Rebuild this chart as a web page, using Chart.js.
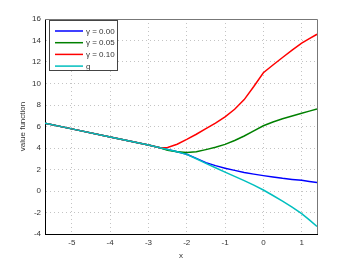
<!DOCTYPE html>
<html>
<head>
<meta charset="utf-8">
<script src="https://cdn.jsdelivr.net/npm/chart.js@4"></script>
<style>
  html, body { margin: 0; padding: 0; background: #fff; }
  #chart { display: block; }
</style>
</head>
<body>
<canvas id="chart" width="350" height="264"></canvas>
<script>
// x grid points (shared by all series)
const xs = [-5.7, -5, -4, -3, -2.7, -2.5, -2.25, -2, -1.75, -1.5, -1.25, -1, -0.75, -0.5, -0.25, 0, 0.25, 0.5, 0.75, 1, 1.2, 1.4];

// value functions
const gamma000 = [6.3, 5.78, 5.03, 4.28, 4.03, 3.87, 3.66, 3.42, 3.03, 2.64, 2.36, 2.12, 1.92, 1.73, 1.57, 1.43, 1.3, 1.18, 1.08, 0.99, 0.89, 0.8];
const gamma005 = [6.3, 5.78, 5.03, 4.28, 4.03, 3.8, 3.65, 3.58, 3.65, 3.85, 4.07, 4.34, 4.7, 5.12, 5.6, 6.07, 6.42, 6.72, 6.98, 7.23, 7.43, 7.62];
const gamma010 = [6.3, 5.78, 5.03, 4.28, 4.03, 4.05, 4.35, 4.8, 5.28, 5.8, 6.32, 6.9, 7.6, 8.5, 9.72, 11.0, 11.72, 12.42, 13.1, 13.75, 14.17, 14.58];
const gFunc = [6.3, 5.78, 5.03, 4.28, 4.03, 3.87, 3.65, 3.41, 3.0, 2.57, 2.16, 1.75, 1.36, 0.96, 0.54, 0.09, -0.42, -0.95, -1.5, -2.1, -2.68, -3.3];

const seriesLabels = ['\u03b3 = 0.00', '\u03b3 = 0.05', '\u03b3 = 0.10', 'g'];
const seriesColors = ['#0000ff', '#008000', '#ff0000', '#00bfbf'];

const xTicks = [-5, -4, -3, -2, -1, 0, 1];
const yTicks = [-4, -2, 0, 2, 4, 6, 8, 10, 12, 14, 16];

const FONT = { family: "'Liberation Sans', Arial, sans-serif", size: 8 };
const TEXT = '#333';

const toPoints = (ys) => xs.map((x, i) => ({ x: x, y: ys[i] }));

// frame on top/right + legend box drawn by hand (matlab style)
const matlabLegend = {
  id: 'matlabLegend',
  afterDatasetsDraw(chart) {
    const { ctx, chartArea: a } = chart;
    ctx.save();
    ctx.strokeStyle = '#777';
    ctx.lineWidth = 1;
    ctx.beginPath();
    ctx.moveTo(a.left, a.top + 0.5);
    ctx.lineTo(a.right + 0.5, a.top + 0.5);
    ctx.lineTo(a.right + 0.5, a.bottom);
    ctx.stroke();

    // legend
    const bx = 49.5, by = 20.5, bw = 68, bh = 50;
    ctx.fillStyle = '#fff';
    ctx.fillRect(bx, by, bw, bh);
    ctx.strokeStyle = '#444';
    ctx.strokeRect(bx, by, bw, bh);
    ctx.font = FONT.size + 'px ' + FONT.family;
    ctx.textBaseline = 'middle';
    chart.data.datasets.forEach((ds, i) => {
      const y = 31 + i * 11.7;
      ctx.strokeStyle = ds.borderColor;
      ctx.lineWidth = 1.5;
      ctx.beginPath();
      ctx.moveTo(55, y);
      ctx.lineTo(83, y);
      ctx.stroke();
      ctx.fillStyle = TEXT;
      ctx.fillText(ds.label, 86, y + 0.5);
    });
    ctx.restore();
  }
};

new Chart(document.getElementById('chart'), {
  type: 'line',
  data: {
    datasets: [gamma000, gamma005, gamma010, gFunc].map((ys, i) => ({
      label: seriesLabels[i],
      data: toPoints(ys),
      borderColor: seriesColors[i],
      backgroundColor: seriesColors[i],
      borderWidth: 1.5,
      pointRadius: 0,
      tension: 0,
      fill: false,
      order: 3 - i // later series on top, like matlab
    }))
  },
  options: {
    responsive: false,
    animation: false,
    layout: { padding: { left: 0, top: 19, right: 33, bottom: 0 } },
    plugins: {
      legend: { display: false },
      tooltip: { enabled: false }
    },
    scales: {
      x: {
        type: 'linear',
        min: -5.7,
        max: 1.4,
        afterBuildTicks: (axis) => { axis.ticks = xTicks.map(v => ({ value: v })); },
        afterFit: (axis) => { axis.height = 30; },
        grid: { color: '#c4c4c4', drawTicks: false },
        border: { color: '#000', width: 1, dash: [1, 3] },
        ticks: { color: TEXT, font: FONT, padding: 4, maxRotation: 0 },
        title: { display: true, text: 'x', color: TEXT, font: FONT, padding: { top: 0, bottom: 3 } }
      },
      y: {
        min: -4,
        max: 16,
        afterBuildTicks: (axis) => { axis.ticks = yTicks.map(v => ({ value: v })); },
        afterFit: (axis) => { axis.width = 45; },
        grid: { color: '#c4c4c4', drawTicks: false },
        border: { color: '#000', width: 1, dash: [1, 3] },
        ticks: { color: TEXT, font: FONT, padding: 4 },
        title: { display: true, text: 'value function', color: TEXT, font: FONT, padding: { top: 18, bottom: 0 } }
      }
    }
  },
  plugins: [matlabLegend]
});
</script>
</body>
</html>
